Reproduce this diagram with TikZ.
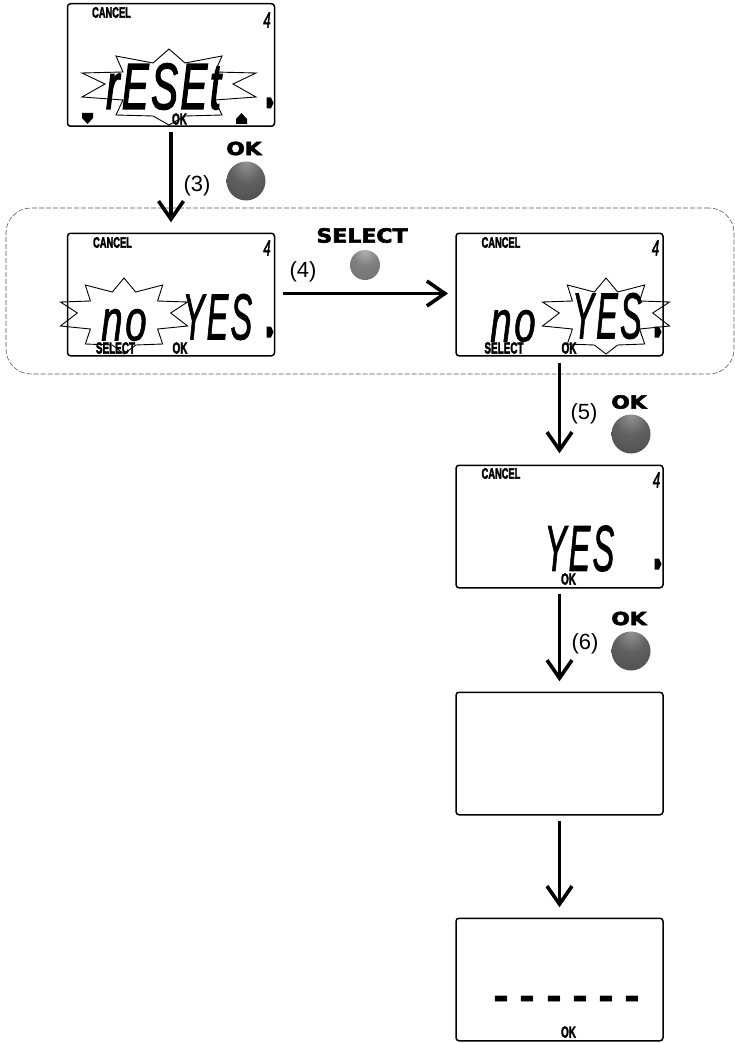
\documentclass[tikz,border=0pt]{standalone}
\usepackage{fontspec}
\setmainfont{Liberation Sans}
\newfontfamily\blackfont[FakeBold=3]{DejaVu Sans Bold}
\newfontfamily\capfont[FakeBold=3]{Liberation Sans Bold}
\newfontfamily\lcdfont[FakeBold=1.6,LetterSpace=7]{Liberation Sans Italic}
\newfontfamily\lcdboldfont[FakeBold=2.6,LetterSpace=6]{Liberation Sans Italic}
\usetikzlibrary{arrows.meta}
\pgfdeclareradialshading{ballshade}{\pgfpoint{0bp}{25bp}}{color(0bp)=(black!42);color(20bp)=(black!62);color(50bp)=(black!72);color(62bp)=(black!72);color(70bp)=(black!55);color(75bp)=(black!25)}
\pgfdeclareradialshading{ballshadelight}{\pgfpoint{0bp}{25bp}}{color(0bp)=(black!30);color(20bp)=(black!50);color(50bp)=(black!58);color(62bp)=(black!58);color(70bp)=(black!45);color(75bp)=(black!20)}
\newcommand{\lcdtext}[3]{{\lcdfont\fontsize{#1}{#1}\selectfont\scalebox{#2}[1]{#3}}}
\newcommand{\lcdbold}[3]{{\lcdboldfont\fontsize{#1}{#1}\selectfont\scalebox{#2}[1]{#3}}}
\newcommand{\tinybold}[3]{{\capfont\fontsize{#1}{#1}\selectfont\scalebox{#2}[1]{#3}}}
\newcommand{\heavytext}[3]{{\blackfont\fontsize{#1}{#1}\selectfont\scalebox{#2}[1]{#3}}}
\newcommand{\burstpath}[3]{\draw[burst,shift={(#1,#2)},xscale=#3]
  (0,-38)--(16,-24)--(53,-31)--(46,-15)--(87,-14)--(64,-3)--(87,10)--(46,13)--(53,28)--(16,29)--(0,38)--(-16,29)--(-53,28)--(-46,13)--(-87,10)--(-64,-3)--(-87,-14)--(-46,-15)--(-53,-31)--(-16,-24)--cycle;}
\newcommand{\sidemark}[2]{\fill[shift={(#1,#2)}] (-3.5,-5.5)--(1,-5.5)--(3.5,0)--(1,5.5)--(-3.5,5.5)--cycle;}
\tikzset{
  screen/.style={draw=black,line width=1.5pt,rounded corners=3pt,minimum width=207pt,minimum height=122.5pt,inner sep=0pt,outer sep=0pt},
  group/.style={draw=black!65,line width=.6pt,dash pattern=on 5pt off 2pt,rounded corners=25pt,minimum width=728pt,minimum height=166pt,inner sep=0pt},
  flow/.style={line width=3.6pt,-{Straight Barb[length=18pt,width=25pt,line width=3.6pt]}},
  burst/.style={draw=black,line width=.9pt,line join=miter},
  txt/.style={inner sep=0pt,outer sep=0pt},
  ball/.style={circle,minimum size=39pt,inner sep=0pt,shading=ballshade},
  balllight/.style={circle,minimum size=30pt,inner sep=0pt,shading=ballshadelight},
}
\begin{document}
\begin{tikzpicture}[x=1pt,y=-1pt]
\useasboundingbox (0,0) rectangle (735,1043);
\node[group] (grp) at (370,291) {};
\node[screen] (s1) at (171,65) {};
\node[screen] (s2) at (171,294.5) {};
\node[screen] (s3) at (559.5,294.5) {};
\node[screen] (s4) at (559.5,526.5) {};
\node[screen] (s5) at (559.5,753.5) {};
\node[screen] (s6) at (559.5,979.5) {};
% bursts
\burstpath{169}{87}{1}
\burstpath{124}{316}{.73}
\burstpath{606}{316}{.73}
% small captions
\node[txt] (c1) at (111.5,12.5) {\tinybold{15}{.62}{CANCEL}};
\node[txt] (c2) at (112.5,242.5) {\tinybold{15}{.62}{CANCEL}};
\node[txt] (c3) at (501,242.5) {\tinybold{15}{.62}{CANCEL}};
\node[txt] (c4) at (501,473.5) {\tinybold{15}{.62}{CANCEL}};
\node[txt] (n1) at (267,20) {\lcdbold{22}{.6}{4}};
\node[txt] (n2) at (267,248) {\lcdbold{22}{.6}{4}};
\node[txt] (n3) at (655.5,248) {\lcdbold{22}{.6}{4}};
\node[txt] (n4) at (656.5,480) {\lcdbold{22}{.6}{4}};
\node[txt] (k1) at (179.5,119) {\tinybold{16}{.62}{OK}};
\node[txt] (k2) at (180,348) {\tinybold{16}{.62}{OK}};
\node[txt] (k3) at (569,348) {\tinybold{16}{.62}{OK}};
\node[txt] (k4) at (568.5,579) {\tinybold{16}{.62}{OK}};
\node[txt] (k6) at (568.5,1032) {\tinybold{16}{.62}{OK}};
\node[txt] (e2) at (115.5,348) {\tinybold{16}{.62}{SELECT}};
\node[txt] (e3) at (504,348) {\tinybold{16}{.62}{SELECT}};
% big display text
\node[txt] (t1) at (163.5,86.5) {\lcdbold{65}{.62}{rESEt}};
\node[txt] (y2) at (217.5,317) {\lcdtext{65}{.5}{YES}};
\node[txt] (o2) at (124,325) {\lcdtext{58}{.66}{no}};
\node[txt] (y3) at (607,316) {\lcdtext{65}{.5}{YES}};
\node[txt] (o3) at (513,326) {\lcdtext{58}{.66}{no}};
\node[txt] (y4) at (579.5,548.5) {\lcdtext{65}{.5}{YES}};
% markers
\sidemark{270}{103}
\sidemark{270}{332}
\sidemark{658}{332}
\sidemark{658}{564}
\fill (82,113)--(93,113)--(93,118)--(87.5,124)--(82,118)--cycle;
\fill (241.5,113)--(247,119)--(247,124)--(236,124)--(236,119)--cycle;
% dashes
\foreach \dx/\nm in {501.5/a,527.5/b,554/c,580/d,606.5/e,632.5/f}
  \node[txt,anchor=base] (dash\nm) at (\dx,1011) {\fontsize{48}{48}\selectfont\bfseries -};
% connectors
\draw[flow,shorten <=6pt,shorten >=11pt] (s1) -- (s2);
\draw[flow,shorten <=8pt,shorten >=8pt] ([yshift=1pt]s2.east) -- ([yshift=1pt]s3.west);
\draw[flow,shorten <=7pt,shorten >=12pt] (s3) -- (s4);
\draw[flow,shorten <=6pt,shorten >=11pt] (s4) -- (s5);
\draw[flow,shorten <=6pt,shorten >=11pt] (s5) -- (s6);
% step labels
\node[txt] (l3) at (197,186) {\fontsize{22}{22}\selectfont (3)};
\node[txt] (l4) at (303,272) {\fontsize{22}{22}\selectfont (4)};
\node[txt] (l5) at (584,414) {\fontsize{22}{22}\selectfont (5)};
\node[txt] (l6) at (585,644) {\fontsize{22}{22}\selectfont (6)};
\node[txt] (b3) at (244,148.5) {\heavytext{18}{1.2}{OK}};
\node[txt] (b4) at (362,235.5) {\heavytext{19.5}{1.13}{SELECT}};
\node[txt] (b5) at (629,402) {\heavytext{18}{1.2}{OK}};
\node[txt] (b6) at (629,618.5) {\heavytext{18}{1.2}{OK}};
\node[ball] (p3) at (246,181) {};
\node[balllight] (p4) at (365,265) {};
\node[ball] (p5) at (631,434) {};
\node[ball] (p6) at (631,651) {};
\end{tikzpicture}
\end{document}
